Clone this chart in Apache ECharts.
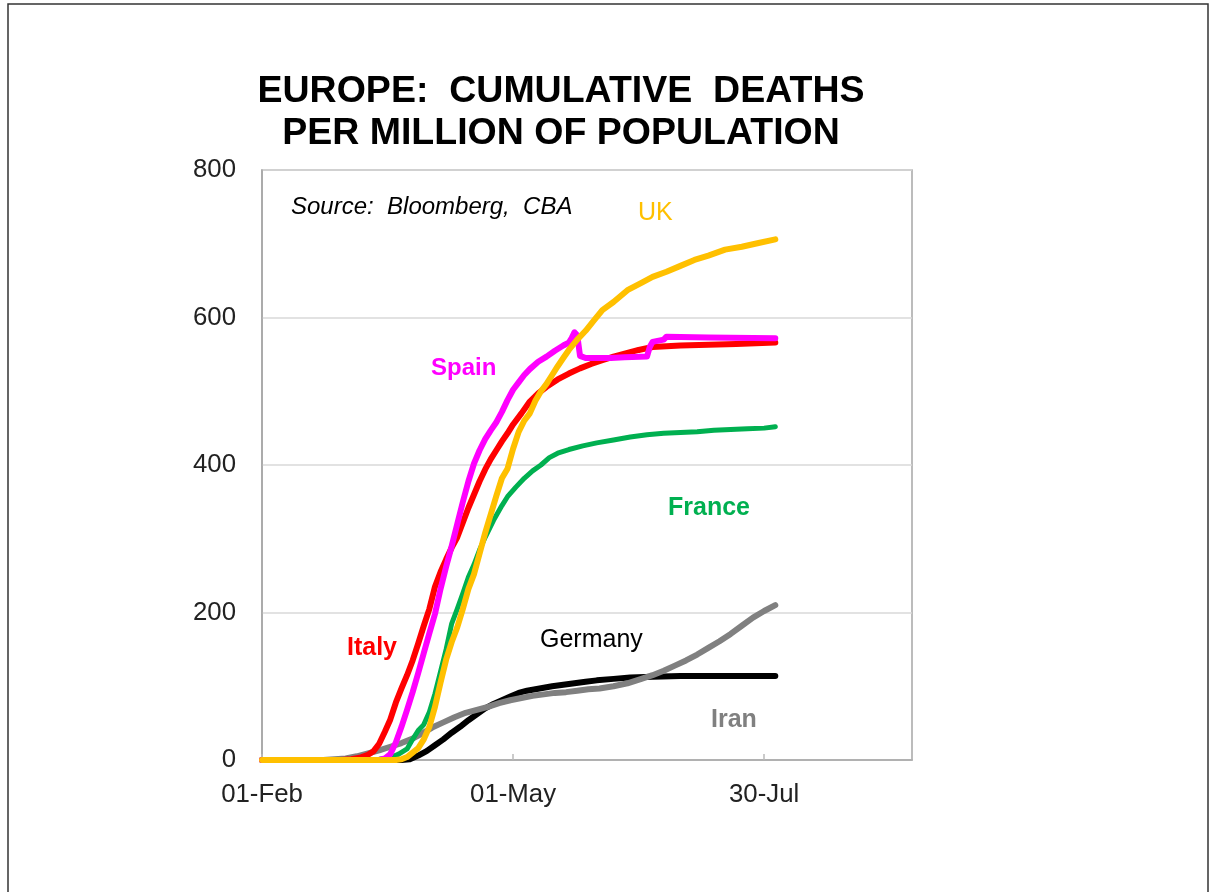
<!DOCTYPE html>
<html>
<head>
<meta charset="utf-8">
<script src="https://cdn.jsdelivr.net/npm/echarts@6/dist/echarts.min.js"></script>
<style>
  html, body { margin:0; padding:0; background:#fff; }
  #chart { width:1211px; height:892px; }
</style>
</head>
<body>
<div id="chart"></div>
<script>
// === Datos: [día desde 01-Feb, muertes por millón] ===
const xTickLabels = { 0:'01-Feb', 90:'01-May', 180:'30-Jul' };

const germany = [[0,0],[50,0],[53,1],[56,6],[59,12],[62,20],[65,28],[68,37],[71,45],[74,54],[77,62],[80,70],[83,76],[86,81],[89,86],[92,91],[95,94],[98,96],[101,98],[104,100],[108,102],[112,104],[116,106],[120,108],[126,110],[132,112],[140,113],[150,114],[160,114],[170,114],[184,114]];

const iran = [[0,0],[22,0],[26,1],[30,2],[34,5],[38,9],[42,13],[46,18],[50,23],[54,29],[57,35],[61,44],[65,51],[69,58],[73,64],[77,68],[81,72],[85,77],[89,81],[93,84],[97,87],[101,89],[105,91],[109,92],[113,94],[117,96],[121,97],[126,100],[131,104],[136,110],[140,115],[144,121],[148,128],[152,135],[156,143],[160,152],[164,161],[168,171],[172,182],[176,193],[180,202],[184,210]];

const france = [[0,0],[38,0],[42,1],[46,3],[49,8],[52,15],[54,28],[56,40],[58,48],[60,65],[62,90],[64,120],[66,150],[68,185],[70,205],[72,226],[74,248],[76,265],[78,285],[80,302],[83,325],[86,345],[88,357],[91,370],[94,382],[97,392],[100,400],[103,410],[106,416],[110,421],[115,426],[120,430],[126,434],[132,438],[138,441],[144,443],[150,444],[156,445],[162,447],[168,448],[174,449],[180,450],[184,452]];

const italy = [[0,0],[28,0],[32,1],[35,3],[38,7],[40,12],[42,22],[44,38],[46,55],[48,78],[50,97],[52,115],[54,135],[56,158],[58,182],[60,205],[62,235],[64,255],[66,272],[68,288],[70,302],[72,322],[74,342],[76,360],[78,378],[80,394],[82,408],[84,420],[86,432],[88,443],[90,455],[93,470],[96,486],[99,497],[102,506],[106,516],[110,524],[114,531],[118,537],[122,542],[126,547],[130,551],[135,556],[140,560],[150,562],[160,563],[170,564],[184,566]];

const spain = [[0,0],[42,0],[44,2],[46,8],[48,24],[50,45],[52,68],[54,92],[56,118],[58,145],[60,172],[62,198],[64,232],[66,262],[68,290],[70,320],[72,350],[74,378],[76,402],[78,420],[80,435],[82,447],[84,458],[86,472],[88,488],[90,502],[92,512],[94,522],[96,530],[99,540],[102,547],[105,555],[108,562],[110,566],[111,572],[112,580],[113,576],[114,548],[116,545],[125,545],[130,546],[138,547],[139,560],[140,567],[144,570],[145,574],[160,573],[184,572]];

const uk = [[0,0],[48,0],[50,1],[52,4],[54,10],[56,16],[58,28],[60,45],[62,72],[64,105],[66,136],[68,160],[70,180],[72,205],[74,232],[76,252],[78,280],[80,308],[82,333],[84,358],[86,382],[88,395],[90,422],[92,445],[94,460],[96,470],[98,487],[100,500],[102,510],[104,522],[106,534],[108,545],[110,556],[113,570],[116,582],[119,596],[122,610],[126,621],[131,637],[136,647],[140,655],[145,662],[150,670],[155,678],[160,684],[166,692],[172,696],[178,701],[184,706]];

// === Fuentes (estilo Arial Narrow si existe) ===
const FONT = "'Liberation Sans', Arial, sans-serif";
const ctx = document.createElement('canvas').getContext('2d');
function hasFont(name){
  ctx.font = '40px monospace'; const a = ctx.measureText('01-Feb EUROPE').width;
  ctx.font = `40px '${name}', monospace`; return ctx.measureText('01-Feb EUROPE').width !== a;
}
const NARROW = hasFont('Liberation Sans Narrow') ? "'Liberation Sans Narrow', 'Liberation Sans', sans-serif" : FONT;
// tamaño para que el texto ocupe el ancho medido en la imagen
function fit(text, weight, family, target){
  ctx.font = `${weight} 40px ${family}`;
  return Math.round(40 * target / ctx.measureText(text).width * 10) / 10;
}
const titleSize = fit('EUROPE:  CUMULATIVE  DEATHS', 'bold', NARROW, 607);
const axisSize  = fit('01-May', 'normal', NARROW, 86);

// === Estilo ===
const gridLine = '#d9d9d9', frame = '#a6a6a6';

const line = (name, data, color, width=6) => ({
  name, type:'line', data, showSymbol:false, animation:false,
  lineStyle:{ color, width, cap:'round', join:'round' }
});

const txt = (x, y, text, color, opts={}) => ({
  type:'text', x, y,
  style:{ text, fill:color,
    font:`${opts.style||'normal'} ${opts.weight||'normal'} ${opts.size||25}px ${opts.family||FONT}`,
    textAlign: opts.align||'left', textVerticalAlign:'middle' }
});

const chart = echarts.init(document.getElementById('chart'));
chart.setOption({
  backgroundColor:'#fff',
  grid:{ left:262, top:170, width:650, height:590, show:true, borderColor:frame, borderWidth:1.5 },
  xAxis:{
    type:'value', min:0, max:233, interval:90,
    axisLine:{ show:true, lineStyle:{ color:frame, width:1.5 } },
    axisTick:{ show:true, inside:true, length:6, lineStyle:{ color:'#bbb', width:1.5 } },
    axisLabel:{ showMaxLabel:false, fontFamily:NARROW, fontSize:axisSize, color:'#222', margin:22,
      formatter:v => xTickLabels[v] || '' },
    splitLine:{ show:false }
  },
  yAxis:{
    type:'value', min:0, max:800, interval:200,
    axisLine:{ show:true, lineStyle:{ color:frame, width:1.5 } },
    axisTick:{ show:false },
    axisLabel:{ fontFamily:NARROW, fontSize:axisSize, color:'#222', margin:26 },
    splitLine:{ lineStyle:{ color:gridLine, width:1.5 } }
  },
  series:[
    line('Germany', germany, '#000000'),
    line('Iran', iran, '#808080'),
    line('France', france, '#00B050', 5),
    line('Italy', italy, '#FF0000'),
    line('Spain', spain, '#FF00FF'),
    line('UK', uk, '#FFC000')
  ],
  graphic:[
    { type:'rect', shape:{ x:8, y:4, width:1200, height:900 },
      style:{ fill:'none', stroke:'#333', lineWidth:1.5 }, silent:true },
    txt(561, 92, 'EUROPE:  CUMULATIVE  DEATHS', '#000', { weight:'bold', size:titleSize, align:'center', family:NARROW }),
    txt(561, 134, 'PER MILLION OF POPULATION', '#000', { weight:'bold', size:titleSize, align:'center', family:NARROW }),
    txt(291, 207, 'Source:  Bloomberg,  CBA', '#000', { style:'italic', size:24 }),
    txt(638, 213, 'UK', '#FFC000', { size:25 }),
    txt(431, 368, 'Spain', '#FF00FF', { weight:'bold', size:24 }),
    txt(668, 508, 'France', '#00B050', { weight:'bold', size:25 }),
    txt(347, 648, 'Italy', '#FF0000', { weight:'bold', size:25 }),
    txt(540, 640, 'Germany', '#000', { size:25 }),
    txt(711, 720, 'Iran', '#808080', { weight:'bold', size:25 })
  ]
});
</script>
</body>
</html>
